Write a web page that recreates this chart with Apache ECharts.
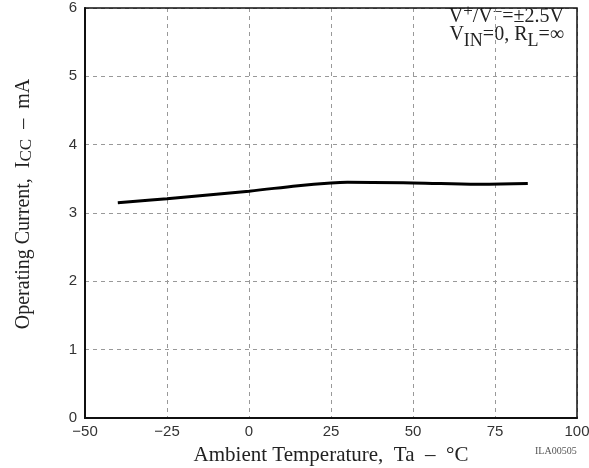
<!DOCTYPE html>
<html>
<head>
<meta charset="utf-8">
<script src="https://cdn.jsdelivr.net/npm/echarts@6/dist/echarts.min.js"></script>
<style>
html,body{margin:0;padding:0;background:#fff;}
#chart{width:589px;height:468px;}
</style>
</head>
<body>
<div id="chart"></div>
<script>
// Data
const temperature = [-40, -25, 0, 15, 25, 30, 50, 70, 85];
const iccCurrent = [3.15, 3.21, 3.32, 3.40, 3.44, 3.45, 3.44, 3.42, 3.43];
const xTicks = [-50, -25, 0, 25, 50, 75, 100];
const yTicks = [0, 1, 2, 3, 4, 5, 6];

const serif = '"Liberation Serif", "DejaVu Serif", serif';
const sans = '"Liberation Sans", Arial, sans-serif';

// lay out a run of text pieces (with sub/superscripts) as separate text elements
const measureCtx = document.createElement('canvas').getContext('2d');
function textRun(pieces, align) {
  const widths = pieces.map(p => {
    measureCtx.font = p.size + 'px ' + serif;
    return measureCtx.measureText(p.t).width;
  });
  const total = widths.reduce((a, b) => a + b, 0);
  let x = align === 'right' ? -total : align === 'center' ? -total / 2 : 0;
  return pieces.map((p, i) => {
    const el = {
      type: 'text', x: x, y: p.dy || 0,
      style: { text: p.t, fontFamily: serif, fontSize: p.size, fill: '#222', align: 'left', verticalAlign: 'middle' }
    };
    x += widths[i];
    return el;
  });
}

const chart = echarts.init(document.getElementById('chart'));
chart.setOption({
  animation: false,
  backgroundColor: '#fff',
  grid: { left: 85, right: 12, top: 8, bottom: 50, containLabel: false, outerBoundsMode: 'none' },
  xAxis: {
    type: 'value',
    min: xTicks[0], max: xTicks[xTicks.length - 1], interval: 25,
    axisLine: { show: true, onZero: false, lineStyle: { color: '#111', width: 2 } },
    axisTick: { show: false },
    axisLabel: { color: '#333', fontFamily: sans, fontSize: 15, margin: 6,
      formatter: v => String(v).replace('-', '−') },
    splitLine: { show: true, lineStyle: { color: '#999', type: [4, 4], width: 1 } },
    name: 'Ambient Temperature,  Ta  –  °C',
    nameLocation: 'middle', nameGap: 27,
    nameTextStyle: { color: '#222', fontFamily: serif, fontSize: 21 }
  },
  yAxis: {
    type: 'value',
    min: yTicks[0], max: yTicks[yTicks.length - 1], interval: 1,
    axisLine: { show: true, onZero: false, lineStyle: { color: '#111', width: 2 } },
    axisTick: { show: false },
    axisLabel: { color: '#333', fontFamily: sans, fontSize: 15, margin: 8 },
    splitLine: { show: true, lineStyle: { color: '#999', type: [4, 4], width: 1 } }
  },
  graphic: [
    { type: 'rect', shape: { x: 85, y: 8, width: 492, height: 410 }, style: { fill: 'none', stroke: '#111', lineWidth: 1.5 }, z: 10 },
    {
      type: 'group', x: 24, y: 204, rotation: Math.PI / 2, z: 10,
      children: textRun([
        { t: 'Operating Current,  I', size: 20 },
        { t: 'CC', size: 17, dy: 3 },
        { t: '  –  mA', size: 20 }
      ], 'center')
    },
    {
      type: 'group', x: 564, y: 16.5, z: 10,
      children: textRun([
        { t: 'V', size: 20 },
        { t: '+', size: 17, dy: -5 },
        { t: '/V', size: 20 },
        { t: '−', size: 17, dy: -4 },
        { t: '=±2.5V', size: 20 }
      ], 'right')
    },
    {
      type: 'group', x: 564, y: 35, z: 10,
      children: textRun([
        { t: 'V', size: 20 },
        { t: 'IN', size: 18, dy: 6 },
        { t: '=0, R', size: 20 },
        { t: 'L', size: 18, dy: 6 },
        { t: '=∞', size: 20 }
      ], 'right')
    },
    {
      type: 'text', x: 535, y: 446, z: 10,
      style: { text: 'ILA00505', fontFamily: serif, fontSize: 10, fill: '#555' }
    }
  ],
  series: [{
    type: 'line',
    data: temperature.map((t, i) => [t, iccCurrent[i]]),
    smooth: 0.4,
    symbol: 'none',
    lineStyle: { color: '#000', width: 3 },
    z: 5
  }]
});
</script>
</body>
</html>
